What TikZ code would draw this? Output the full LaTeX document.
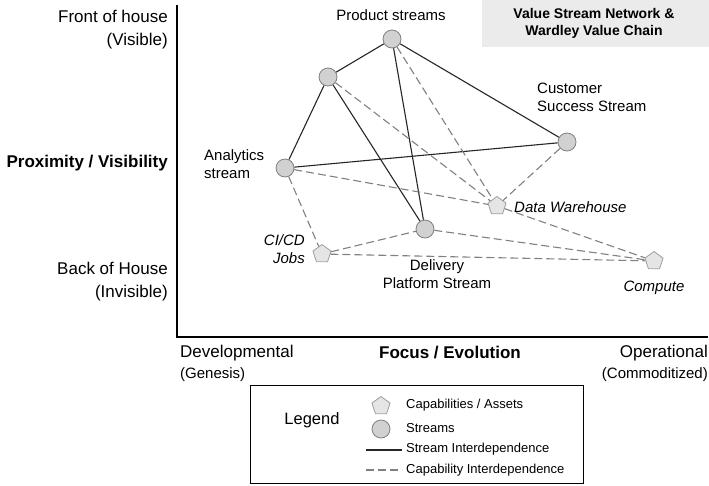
\documentclass[tikz,border=0pt]{standalone}
\usepackage{fontspec}
\setmainfont{Liberation Sans}
\usetikzlibrary{shapes.geometric}
\tikzset{
	strm/.style={circle,draw=black!50,fill=black!18,line width=0.8pt,minimum size=18pt,inner sep=0pt},
	asset/.style={regular polygon,regular polygon sides=5,draw=black!38,fill=black!10,line width=0.8pt,minimum size=19pt,inner sep=0pt},
	sdep/.style={black!85,line width=1.1pt},
	cdep/.style={black!50,line width=1.1pt,dash pattern=on 8pt off 4pt},
	lbl/.style={font=\fontsize{15}{18}\selectfont,align=left,inner sep=0pt},
	ilbl/.style={lbl,font=\fontsize{15}{18}\selectfont\itshape},
	axl/.style={font=\fontsize{17}{23}\selectfont,inner sep=0pt},
	legt/.style={font=\fontsize{13}{15}\selectfont,anchor=west,inner sep=0pt}
}
\begin{document}
\begin{tikzpicture}[x=1pt,y=-1pt]
	\useasboundingbox (0,0) rectangle (709,485);
	\fill[black!8] (482,0) rectangle (709,47);
	\node[font=\bfseries\fontsize{14}{17}\selectfont,align=center] (title) at (594,23) {Value Stream Network \&\\Wardley Value Chain};
	\draw[line width=2pt] (177,5) -- (177,337) -- (708,337);
	\node[axl,anchor=east,align=right] (front) at (168,30) {Front of house\\(Visible)};
	\node[axl,anchor=east,font=\bfseries\fontsize{17}{23}\selectfont] (prox) at (168,163) {Proximity / Visibility};
	\node[axl,anchor=east,align=right] (back) at (168,282) {Back of House\\(Invisible)};
	\node[axl,anchor=west] (dev) at (180,353) {Developmental};
	\node[lbl,anchor=west] (gen) at (180,375) {(Genesis)};
	\node[axl,font=\bfseries\fontsize{17}{23}\selectfont] (focus) at (450,353) {Focus / Evolution};
	\node[axl,anchor=east] (oper) at (708,353) {Operational};
	\node[lbl,anchor=east] (comm) at (708,375) {(Commoditized)};
	\node[strm] (prod) at (392,39) {};
	\node[strm] (mid) at (328,77) {};
	\node[strm] (ana) at (285,168) {};
	\node[strm] (cust) at (567,142) {};
	\node[strm] (deliv) at (425,229) {};
	\node[asset] (dw) at (497,206) {};
	\node[asset] (cicd) at (322,254) {};
	\node[asset] (comp) at (654,261) {};
	\draw[sdep] (prod) -- (mid);
	\draw[sdep] (prod) -- (deliv);
	\draw[sdep] (prod) -- (cust);
	\draw[sdep] (mid) -- (ana);
	\draw[sdep] (mid) -- (deliv);
	\draw[sdep] (ana) -- (cust);
	\draw[cdep] (prod) -- (dw);
	\draw[cdep] (mid) -- (dw);
	\draw[cdep] (cust) -- (dw);
	\draw[cdep] (ana) -- (dw);
	\draw[cdep] (dw) -- (comp);
	\draw[cdep] (ana) -- (cicd);
	\draw[cdep] (cicd) -- (deliv);
	\draw[cdep] (deliv) -- (comp);
	\draw[cdep] (cicd) -- (comp);
	\node[lbl] (prodl) at (391,15) {Product streams};
	\node[lbl,anchor=west] (custl) at (537,97) {Customer\\Success Stream};
	\node[lbl,anchor=west] (anal) at (204,164) {Analytics\\stream};
	\node[ilbl,anchor=west] (dwl) at (514,207) {Data Warehouse};
	\node[ilbl,align=right,anchor=east] (cicdl) at (305,249) {CI/CD\\Jobs};
	\node[lbl,align=center] (delivl) at (437,274) {Delivery\\Platform Stream};
	\node[ilbl] (compl) at (654,288) {Compute};
	\draw[line width=0.8pt] (250,385) rectangle (583,483);
	\node[font=\fontsize{16.5}{20}\selectfont] (leg) at (312,420) {Legend};
	\node[asset] (lasset) at (381,406) {};
	\node[strm] (lstrm) at (381,429) {};
	\coordinate (ls1) at (366,450);
	\coordinate (ls2) at (402,450);
	\coordinate (lc1) at (366,470);
	\coordinate (lc2) at (402,470);
	\draw[sdep] (ls1) -- (ls2);
	\draw[cdep] (lc1) -- (lc2);
	\node[legt] (tasset) at (406,405) {Capabilities / Assets};
	\node[legt] (tstrm) at (406,428) {Streams};
	\node[legt] (tsdep) at (406,449) {Stream Interdependence};
	\node[legt] (tcdep) at (406,470) {Capability Interdependence};
\end{tikzpicture}
\end{document}
